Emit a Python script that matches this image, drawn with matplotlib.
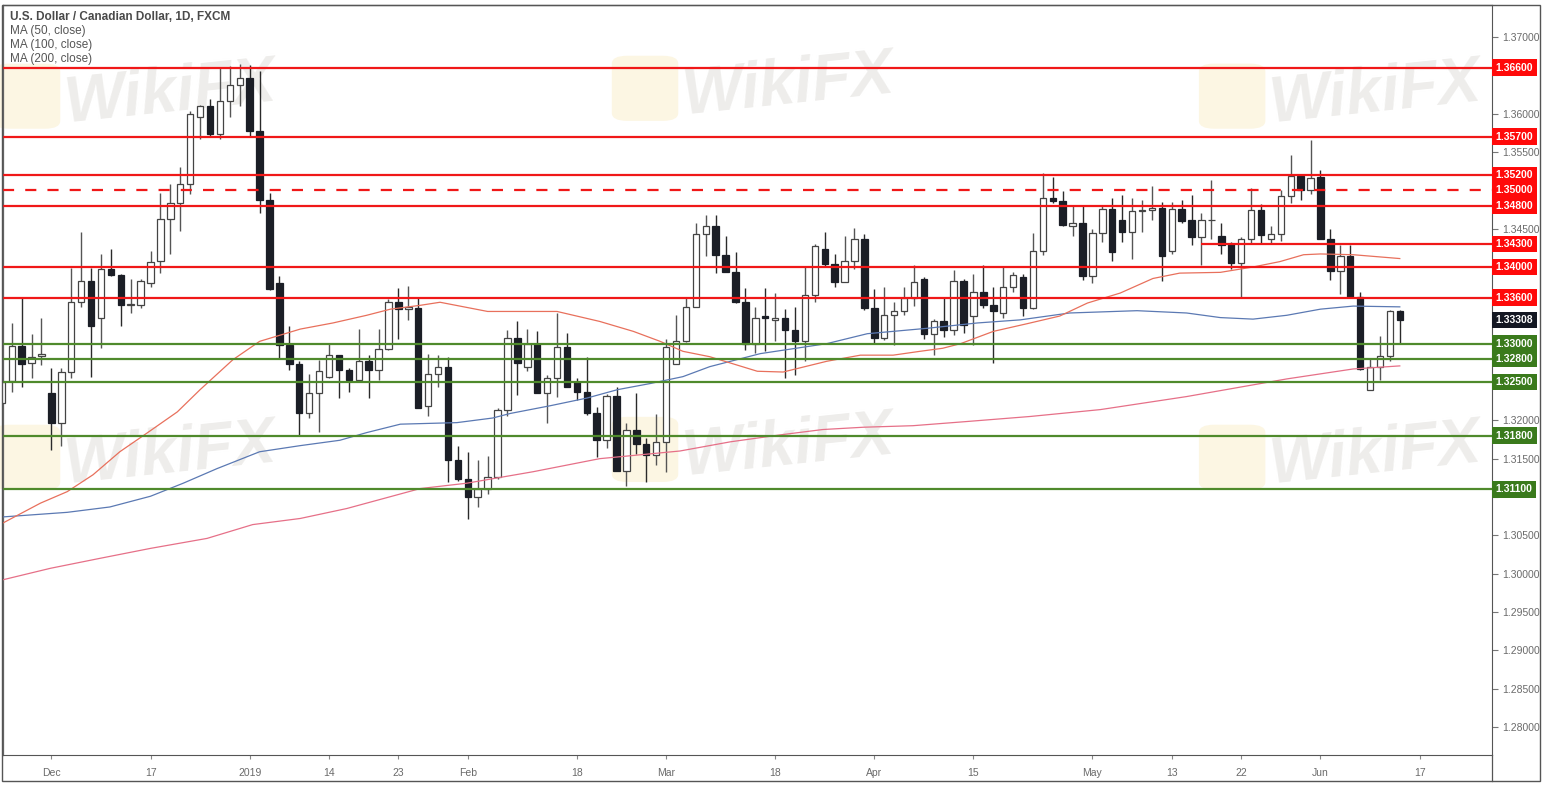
import matplotlib
matplotlib.use("Agg")
import matplotlib.pyplot as plt
import matplotlib.transforms as mtransforms
from matplotlib.patches import Rectangle, FancyBboxPatch
from matplotlib.lines import Line2D

plt.rcParams['font.family'] = ['Liberation Sans', 'DejaVu Sans']

# --- daily candles USD/CAD (26 Nov 2018 .. 13 Jun 2019) ---
opens = [1.3222, 1.3251, 1.3297, 1.3275, 1.3284, 1.3236, 1.3197, 1.3263, 1.3354, 1.3382,
         1.3334, 1.3397, 1.3390, 1.3351, 1.3351, 1.3379, 1.3408, 1.3462, 1.3484, 1.3508,
         1.3595, 1.3610, 1.3574, 1.3617, 1.3638, 1.3646, 1.3577, 1.3487, 1.3379, 1.3298,
         1.3274, 1.3210, 1.3236, 1.3257, 1.3285, 1.3266, 1.3252, 1.3278, 1.3266, 1.3293,
         1.3354, 1.3345, 1.3347, 1.3219, 1.3260, 1.3269, 1.3148, 1.3124, 1.3100, 1.3110,
         1.3126, 1.3213, 1.3308, 1.3270, 1.3300, 1.3236, 1.3255, 1.3295, 1.3250, 1.3237,
         1.3210, 1.3174, 1.3232, 1.3134, 1.3187, 1.3169, 1.3155, 1.3172, 1.3274, 1.3303,
         1.3348, 1.3443, 1.3454, 1.3416, 1.3393, 1.3354, 1.3300, 1.3336, 1.3331, 1.3334,
         1.3318, 1.3304, 1.3363, 1.3424, 1.3404, 1.3381, 1.3408, 1.3437, 1.3346, 1.3307,
         1.3337, 1.3343, 1.3359, 1.3384, 1.3313, 1.3329, 1.3318, 1.3382, 1.3336, 1.3368,
         1.3350, 1.3340, 1.3374, 1.3387, 1.3347, 1.3421, 1.3490, 1.3486, 1.3453, 1.3458,
         1.3388, 1.3444, 1.3475, 1.3461, 1.3445, 1.3473, 1.3474, 1.3477, 1.3421, 1.3475,
         1.3461, 1.3439, 1.3461, 1.3440, 1.3430, 1.3405, 1.3437, 1.3474, 1.3437, 1.3443,
         1.3493, 1.3519, 1.3500, 1.3517, 1.3436, 1.3395, 1.3414, 1.3361, 1.3239, 1.3269,
         1.3284, 1.3343]
highs = [1.3256, 1.3327, 1.3360, 1.3313, 1.3334, 1.3268, 1.3268, 1.3399, 1.3445, 1.3399,
         1.3417, 1.3424, 1.3391, 1.3384, 1.3384, 1.3421, 1.3497, 1.3508, 1.3531, 1.3603,
         1.3611, 1.3619, 1.3660, 1.3662, 1.3665, 1.3664, 1.3656, 1.3497, 1.3388, 1.3323,
         1.3278, 1.3260, 1.3279, 1.3300, 1.3285, 1.3268, 1.3319, 1.3285, 1.3319, 1.3358,
         1.3372, 1.3375, 1.3360, 1.3287, 1.3285, 1.3282, 1.3166, 1.3159, 1.3148, 1.3154,
         1.3216, 1.3318, 1.3330, 1.3319, 1.3316, 1.3259, 1.3340, 1.3314, 1.3255, 1.3282,
         1.3218, 1.3234, 1.3243, 1.3197, 1.3236, 1.3177, 1.3208, 1.3306, 1.3338, 1.3361,
         1.3458, 1.3468, 1.3468, 1.3440, 1.3419, 1.3372, 1.3348, 1.3372, 1.3366, 1.3345,
         1.3348, 1.3401, 1.3430, 1.3445, 1.3417, 1.3440, 1.3451, 1.3443, 1.3371, 1.3374,
         1.3354, 1.3374, 1.3403, 1.3387, 1.3332, 1.3361, 1.3396, 1.3384, 1.3391, 1.3403,
         1.3374, 1.3400, 1.3393, 1.3391, 1.3444, 1.3522, 1.3518, 1.3499, 1.3480, 1.3480,
         1.3449, 1.3481, 1.3490, 1.3494, 1.3490, 1.3487, 1.3506, 1.3485, 1.3485, 1.3487,
         1.3494, 1.3470, 1.3514, 1.3457, 1.3433, 1.3439, 1.3503, 1.3482, 1.3453, 1.3500,
         1.3546, 1.3521, 1.3566, 1.3527, 1.3449, 1.3429, 1.3429, 1.3368, 1.3280, 1.3310,
         1.3344, 1.3344]
lows = [1.3215, 1.3237, 1.3244, 1.3255, 1.3272, 1.3161, 1.3166, 1.3255, 1.3348, 1.3256,
        1.3294, 1.3388, 1.3323, 1.3340, 1.3347, 1.3374, 1.3392, 1.3417, 1.3447, 1.3495,
        1.3567, 1.3569, 1.3567, 1.3595, 1.3610, 1.3570, 1.3470, 1.3370, 1.3280, 1.3266,
        1.3181, 1.3203, 1.3185, 1.3255, 1.3229, 1.3237, 1.3250, 1.3229, 1.3252, 1.3292,
        1.3306, 1.3331, 1.3216, 1.3205, 1.3243, 1.3120, 1.3121, 1.3071, 1.3087, 1.3104,
        1.3124, 1.3205, 1.3233, 1.3264, 1.3235, 1.3197, 1.3231, 1.3243, 1.3227, 1.3207,
        1.3152, 1.3164, 1.3134, 1.3114, 1.3156, 1.3120, 1.3142, 1.3132, 1.3274, 1.3302,
        1.3348, 1.3414, 1.3392, 1.3393, 1.3353, 1.3292, 1.3288, 1.3291, 1.3303, 1.3255,
        1.3259, 1.3277, 1.3354, 1.3401, 1.3374, 1.3380, 1.3397, 1.3344, 1.3300, 1.3305,
        1.3298, 1.3337, 1.3349, 1.3306, 1.3285, 1.3309, 1.3311, 1.3314, 1.3298, 1.3347,
        1.3275, 1.3334, 1.3367, 1.3336, 1.3345, 1.3416, 1.3484, 1.3453, 1.3440, 1.3383,
        1.3379, 1.3432, 1.3408, 1.3433, 1.3411, 1.3446, 1.3461, 1.3382, 1.3417, 1.3458,
        1.3429, 1.3403, 1.3436, 1.3417, 1.3397, 1.3359, 1.3430, 1.3431, 1.3431, 1.3434,
        1.3483, 1.3487, 1.3495, 1.3436, 1.3383, 1.3365, 1.3360, 1.3265, 1.3239, 1.3252,
        1.3277, 1.3301]
closes = [1.3250, 1.3297, 1.3274, 1.3283, 1.3287, 1.3197, 1.3263, 1.3354, 1.3382, 1.3323,
          1.3397, 1.3390, 1.3351, 1.3352, 1.3382, 1.3407, 1.3462, 1.3484, 1.3508, 1.3599,
          1.3610, 1.3574, 1.3617, 1.3637, 1.3646, 1.3577, 1.3487, 1.3371, 1.3298, 1.3274,
          1.3210, 1.3236, 1.3264, 1.3285, 1.3266, 1.3252, 1.3278, 1.3266, 1.3293, 1.3354,
          1.3345, 1.3348, 1.3216, 1.3260, 1.3269, 1.3148, 1.3124, 1.3100, 1.3110, 1.3126,
          1.3213, 1.3308, 1.3275, 1.3300, 1.3235, 1.3255, 1.3295, 1.3243, 1.3237, 1.3210,
          1.3174, 1.3232, 1.3134, 1.3187, 1.3169, 1.3155, 1.3172, 1.3296, 1.3303, 1.3348,
          1.3443, 1.3454, 1.3416, 1.3393, 1.3354, 1.3300, 1.3334, 1.3334, 1.3334, 1.3318,
          1.3304, 1.3363, 1.3427, 1.3404, 1.3381, 1.3408, 1.3437, 1.3347, 1.3307, 1.3337,
          1.3342, 1.3359, 1.3381, 1.3313, 1.3329, 1.3318, 1.3382, 1.3324, 1.3368, 1.3350,
          1.3342, 1.3374, 1.3390, 1.3347, 1.3421, 1.3490, 1.3486, 1.3455, 1.3458, 1.3388,
          1.3444, 1.3475, 1.3420, 1.3445, 1.3473, 1.3474, 1.3477, 1.3414, 1.3475, 1.3460,
          1.3439, 1.3461, 1.3461, 1.3429, 1.3405, 1.3437, 1.3474, 1.3442, 1.3443, 1.3493,
          1.3519, 1.3500, 1.3516, 1.3437, 1.3395, 1.3414, 1.3361, 1.3267, 1.3269, 1.3284,
          1.3343, 1.33308]

# moving averages, sampled along the drawn lines (bar index, price)
ma50_x = [0.1, 3.9, 6.6, 9.2, 11.9, 14.6, 17.7, 20.0, 23.3, 26.0, 30.1, 33.4, 36.8, 39.2,
          42.2, 44.2, 49.0, 56.0, 60.3, 63.7, 66.4, 68.7, 71.4, 76.2, 78.8, 83.2, 86.6,
          89.9, 92.6, 94.9, 96.7, 100.0, 103.4, 106.7, 109.5, 112.8, 116.1, 118.8, 122.9,
          126.2, 128.9, 131.3, 133.0, 136.3, 141.0]
ma50_y = [1.3066, 1.3092, 1.3107, 1.3129, 1.3159, 1.3183, 1.3211, 1.3240, 1.3279, 1.3303,
          1.3319, 1.3327, 1.3337, 1.3345, 1.3350, 1.3354, 1.3342, 1.3342, 1.3329, 1.3316,
          1.3303, 1.3290, 1.3283, 1.3264, 1.3263, 1.3277, 1.3285, 1.3285, 1.3290, 1.3294,
          1.3300, 1.3316, 1.3326, 1.3336, 1.3353, 1.3366, 1.3385, 1.3392, 1.3393, 1.3400,
          1.3407, 1.3416, 1.3417, 1.3416, 1.3411]
ma100_x = [0.1, 6.6, 10.9, 15.0, 18.3, 21.7, 26.0, 30.1, 34.1, 36.8, 40.2, 45.9, 49.5, 51.3,
           55.3, 59.0, 62.1, 65.4, 68.7, 71.4, 76.5, 83.2, 87.3, 93.3, 98.4, 102.7, 107.7,
           114.5, 119.5, 122.9, 126.2, 129.6, 133.0, 136.3, 141.0]
ma100_y = [1.3074, 1.3080, 1.3087, 1.3101, 1.3118, 1.3137, 1.3159, 1.3167, 1.3174, 1.3184,
           1.3195, 1.3197, 1.3203, 1.3209, 1.3219, 1.3229, 1.3240, 1.3248, 1.3257, 1.3270,
           1.3287, 1.3300, 1.3313, 1.3320, 1.3327, 1.3331, 1.3340, 1.3343, 1.3340, 1.3334,
           1.3332, 1.3337, 1.3345, 1.3349, 1.3348]
ma200_x = [0.1, 4.9, 9.9, 15.0, 20.7, 25.3, 30.1, 34.8, 38.5, 42.2, 46.9, 53.6, 60.3, 68.4,
           73.5, 78.5, 82.8, 86.9, 91.9, 96.9, 103.7, 110.8, 119.5, 129.6, 136.3, 141.0]
ma200_y = [1.2992, 1.3007, 1.3020, 1.3033, 1.3046, 1.3064, 1.3072, 1.3085, 1.3098, 1.3111,
           1.3118, 1.3133, 1.3150, 1.3160, 1.3172, 1.3181, 1.3188, 1.3191, 1.3193, 1.3198,
           1.3205, 1.3214, 1.3231, 1.3254, 1.3267, 1.3271]

# horizontal levels
red_levels = [1.3660, 1.3570, 1.3520, 1.3480, 1.3400, 1.3360]
red_dashed = [1.3500]
red_partial = 1.3430
red_partial_start = 121
green_levels = [1.3300, 1.3280, 1.3250, 1.3180, 1.3110]
last_price = 1.33308

# x axis labels (bar index, text)
xtick_pos = [5, 15, 25, 33, 40, 47, 58, 67, 78, 88, 98, 110, 118, 125, 133, 143]
xtick_lab = ['Dec', '17', '2019', '14', '23', 'Feb', '18', 'Mar', '18', 'Apr', '15',
             'May', '13', '22', 'Jun', '17']
ytick_vals = [1.280 + 0.005 * i for i in range(19)]

RED = '#f01818'
GREEN = '#4f8a2c'
GREEN_BOX = '#3a7a1c'
CANDLE_DARK = '#1b1e26'

W, H = 1545, 785
fig = plt.figure(figsize=(W / 100, H / 100), dpi=100)
fig.patch.set_facecolor('white')

# faint WikiFX watermarks (kept under the chart)
for (wx, wy) in [(0.03, 0.88), (0.43, 0.89), (0.81, 0.88),
                 (0.03, 0.42), (0.43, 0.43), (0.81, 0.42)]:
    fig.patches.append(FancyBboxPatch((wx - 0.03, wy - 0.04), 0.035, 0.075,
                                      boxstyle='round,pad=0.004,rounding_size=0.01',
                                      transform=fig.transFigure, facecolor='#fcf4dc',
                                      edgecolor='none', alpha=0.8, zorder=-2))
    fig.text(wx + 0.01, wy, 'WikiFX', fontsize=46, fontweight='bold', color='#eeedeb',
             rotation=6, ha='left', va='center', zorder=-2, style='italic')

ax = fig.add_axes([3 / W, 30 / H, 1489 / W, 750 / H])
ax.patch.set_alpha(0)

x_left, x_right = 0.12, 150.3
ax.set_xlim(x_left, x_right)
ax.set_ylim(1.27635, 1.37417)

# candles
for i in range(len(opens)):
    o, h, l, c = opens[i], highs[i], lows[i], closes[i]
    up = c >= o
    ax.vlines(i, l, h, color='#2a2a2a' if not up else '#555555', lw=1.0, zorder=3)
    bottom = min(o, c)
    height = max(abs(c - o), 0.00006)
    ax.bar(i, height, bottom=bottom, width=0.65,
           facecolor='white' if up else CANDLE_DARK,
           edgecolor='#444444' if up else CANDLE_DARK, lw=0.9, zorder=4)

# moving averages
ax.plot(ma200_x, ma200_y, color='#e67088', lw=0.9, zorder=5)
ax.plot(ma100_x, ma100_y, color='#5b79b3', lw=0.9, zorder=5)
ax.plot(ma50_x, ma50_y, color='#e8705c', lw=0.9, zorder=5)

# levels
for lv in red_levels:
    ax.axhline(lv, color=RED, lw=1.6, zorder=6)
for lv in red_dashed:
    ax.axhline(lv, color=RED, lw=1.6, ls=(0, (5, 5)), zorder=6)
ax.hlines(red_partial, red_partial_start, x_right, color=RED, lw=1.6, zorder=6)
for lv in green_levels:
    ax.axhline(lv, color=GREEN, lw=1.6, zorder=6)

# axes cosmetics
for s in ['top', 'left']:
    ax.spines[s].set_color('#666666')
    ax.spines[s].set_linewidth(0.9)
ax.spines['right'].set_color('#555555')
ax.spines['bottom'].set_color('#555555')

# scale labels hidden behind the level boxes are left out
boxed = red_levels + red_dashed + [red_partial] + green_levels + [last_price]
shown = [v for v in ytick_vals if min(abs(v - b) for b in boxed) > 0.0013]
ax.yaxis.tick_right()
ax.set_yticks(ytick_vals)
ax.set_yticklabels(['%.5f' % v if v in shown else '' for v in ytick_vals])
ax.tick_params(axis='y', colors='#777777', labelsize=7.5, length=4, width=0.8,
               pad=3, labelcolor='#6a6a6a')
ax.set_xticks(xtick_pos)
ax.set_xticklabels(xtick_lab)
ax.tick_params(axis='x', colors='#888888', labelsize=7.5, length=3, width=0.8,
               pad=6, labelcolor='#6a6a6a')

# price labels on the right scale
trans = mtransforms.blended_transform_factory(ax.transAxes, ax.transData)
def price_box(val, color):
    ax.text(1.0025, val, '%.5f' % val, transform=trans, ha='left', va='center',
            fontsize=7.5, fontweight='bold', color='white', zorder=10, clip_on=False,
            bbox=dict(boxstyle='square,pad=0.32', facecolor=color, edgecolor='none'))

for lv in red_levels + red_dashed + [red_partial]:
    price_box(lv, '#ff0a0a')
for lv in green_levels:
    price_box(lv, GREEN_BOX)
price_box(last_price, '#131722')

# header text
fig.text(10 / W, 1 - 17 / H, 'U.S. Dollar / Canadian Dollar, 1D, FXCM', fontsize=8.5,
         fontweight='bold', color='#4a4a4a', va='center', ha='left')
for k, t in enumerate(['MA (50, close)', 'MA (100, close)', 'MA (200, close)']):
    fig.text(10 / W, 1 - (31 + 14 * k) / H, t, fontsize=8.5, color='#555555',
             va='center', ha='left')

# outer frame like the trading platform
fig.patches.append(Rectangle((2 / W, 4 / H), 1538 / W, 776 / H, transform=fig.transFigure,
                             fill=False, edgecolor='#555555', lw=1.0, zorder=20))
fig.lines.append(Line2D([1492 / W, 1492 / W], [4 / H, 30 / H], transform=fig.transFigure,
                        color='#555555', lw=0.9))

fig.savefig('out.png', dpi=100)
